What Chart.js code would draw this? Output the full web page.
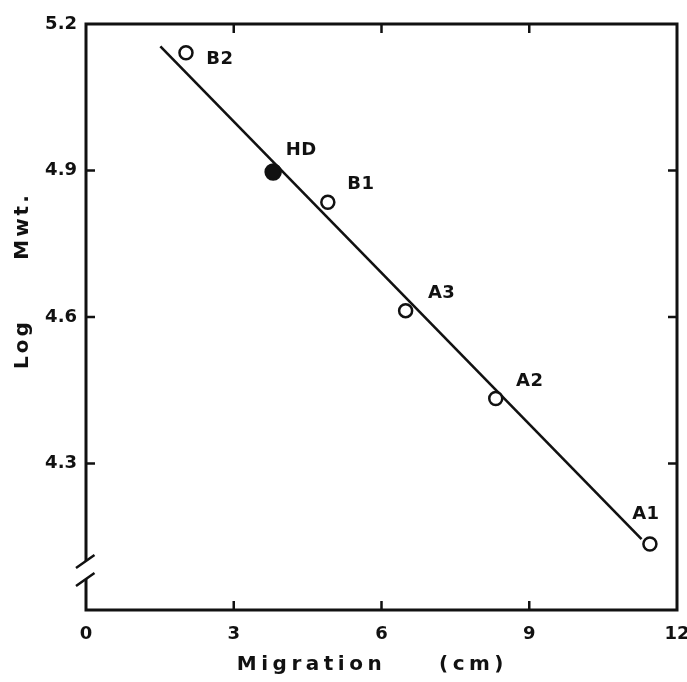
<!DOCTYPE html>
<html lang="en">

<head>
    <meta charset="UTF-8">
    <title>Log Mwt. vs Migration</title>
    <script src="https://cdn.jsdelivr.net/npm/chart.js@4.4.1/dist/chart.umd.min.js"></script>
    <style>
        body { margin: 0; background: #ffffff; }
        #wrap { width: 687px; height: 682px; }
    </style>
</head>

<body>
    <div id="wrap"><canvas id="plot"></canvas></div>

    <script>
        // values
        const proteinNames = ['B2', 'HD', 'B1', 'A3', 'A2', 'A1'];
        const migration = [2.03, 3.80, 4.91, 6.49, 8.32, 11.45];
        const logMwt = [5.141, 4.897, 4.835, 4.613, 4.433, 4.135];
        const fitMigration = [1.51, 11.28];
        const fitLogMwt = [5.154, 4.145];
        const xTicks = [0, 3, 6, 9, 12];
        const yTicks = [4.3, 4.6, 4.9, 5.2];

        // where each name sits relative to its point (px)
        const labelOffsets = [[34, 7], [28, -22], [33, -18], [36, -17], [34, -17], [-4, -30]];

        const ink = '#111111';
        const fontFamily = "'DejaVu Sans', 'Liberation Sans', sans-serif";

        const frame = {
            id: 'frame',
            afterDatasetsDraw(chart) {
                const { ctx, chartArea: a, scales: { x, y } } = chart;
                const gapTop = a.bottom - 49;
                const gapBot = a.bottom - 31;
                ctx.save();
                ctx.strokeStyle = ink;

                // box with a break in the left axis
                ctx.lineWidth = 3;
                ctx.lineJoin = 'miter';
                ctx.beginPath();
                ctx.moveTo(a.left, gapTop);
                ctx.lineTo(a.left, a.top);
                ctx.lineTo(a.right, a.top);
                ctx.lineTo(a.right, a.bottom);
                ctx.lineTo(a.left, a.bottom);
                ctx.lineTo(a.left, gapBot);
                ctx.stroke();

                // inward ticks on all four sides
                ctx.lineWidth = 2.5;
                const len = 9;
                ctx.beginPath();
                x.ticks.forEach(t => {
                    if (t.value <= x.min || t.value >= x.max) return;
                    const px = x.getPixelForValue(t.value);
                    ctx.moveTo(px, a.bottom); ctx.lineTo(px, a.bottom - len);
                    ctx.moveTo(px, a.top); ctx.lineTo(px, a.top + len);
                });
                y.ticks.forEach(t => {
                    if (t.value <= y.min || t.value >= y.max) return;
                    const py = y.getPixelForValue(t.value);
                    ctx.moveTo(a.left, py); ctx.lineTo(a.left + len, py);
                    ctx.moveTo(a.right, py); ctx.lineTo(a.right - len, py);
                });
                ctx.stroke();

                // the // break marks
                ctx.lineWidth = 2.5;
                ctx.beginPath();
                [gapTop, gapBot].forEach(c => {
                    ctx.moveTo(a.left - 10, c + 7);
                    ctx.lineTo(a.left + 8.5, c - 6);
                });
                ctx.stroke();

                // point names
                ctx.fillStyle = ink;
                ctx.font = 'bold 18px ' + fontFamily;
                ctx.letterSpacing = '0.5px';
                ctx.textAlign = 'center';
                ctx.textBaseline = 'middle';
                const pts = chart.getDatasetMeta(0).data;
                pts.forEach((p, i) => {
                    const [dx, dy] = labelOffsets[i];
                    ctx.fillText(proteinNames[i], p.x + dx, p.y + dy);
                });

                // axis titles
                ctx.font = 'bold 20px ' + fontFamily;
                ctx.letterSpacing = '4.5px';
                const cx = (a.left + a.right) / 2;
                ctx.fillText('Migration', cx - 70, 665);
                ctx.fillText('(cm)', cx + 92, 665);

                ctx.letterSpacing = '3px';
                const cy = (a.top + a.bottom) / 2;
                ctx.translate(23, cy);
                ctx.rotate(-Math.PI / 2);
                ctx.fillText('Log', -27, 0);
                ctx.fillText('Mwt.', 91, 0);
                ctx.restore();
            }
        };

        const samples = migration.map((m, i) => ({ x: m, y: logMwt[i] }));
        const fit = fitMigration.map((m, i) => ({ x: m, y: fitLogMwt[i] }));

        new Chart(document.getElementById('plot'), {
            type: 'scatter',
            data: {
                datasets: [{
                    label: 'proteins',
                    data: samples,
                    pointRadius: proteinNames.map(n => n === 'HD' ? 7.5 : 6.5),
                    pointBorderWidth: 2.5,
                    pointBorderColor: ink,
                    pointBackgroundColor: proteinNames.map(n => n === 'HD' ? ink : '#ffffff'),
                }, {
                    type: 'line',
                    label: 'fit',
                    data: fit,
                    borderColor: ink,
                    borderWidth: 2.6,
                    pointRadius: 0,
                    fill: false,
                }]
            },
            options: {
                responsive: true,
                maintainAspectRatio: false,
                animation: false,
                layout: { padding: { top: 24, right: 8, left: 0, bottom: 0 } },
                plugins: {
                    legend: { display: false },
                    tooltip: { enabled: false },
                },
                scales: {
                    x: {
                        type: 'linear',
                        min: 0,
                        max: 12,
                        afterBuildTicks: s => { s.ticks = xTicks.map(v => ({ value: v })); },
                        afterFit: s => { s.height = 72; s.paddingLeft = 0; s.paddingRight = 0; },
                        grid: { display: false, drawTicks: false },
                        border: { display: false },
                        ticks: {
                            color: ink,
                            padding: 14,
                            font: { family: fontFamily, size: 18, weight: 'bold' },
                        },
                    },
                    y: {
                        type: 'linear',
                        min: 4.0,
                        max: 5.2,
                        afterBuildTicks: s => { s.ticks = yTicks.map(v => ({ value: v })); },
                        afterFit: s => { s.width = 86; s.paddingTop = 0; s.paddingBottom = 0; },
                        grid: { display: false, drawTicks: false },
                        border: { display: false },
                        ticks: {
                            color: ink,
                            padding: 9,
                            font: { family: fontFamily, size: 18, weight: 'bold' },
                            callback: v => v.toFixed(1),
                        },
                    },
                },
            },
            plugins: [frame],
        });
    </script>
</body>

</html>
